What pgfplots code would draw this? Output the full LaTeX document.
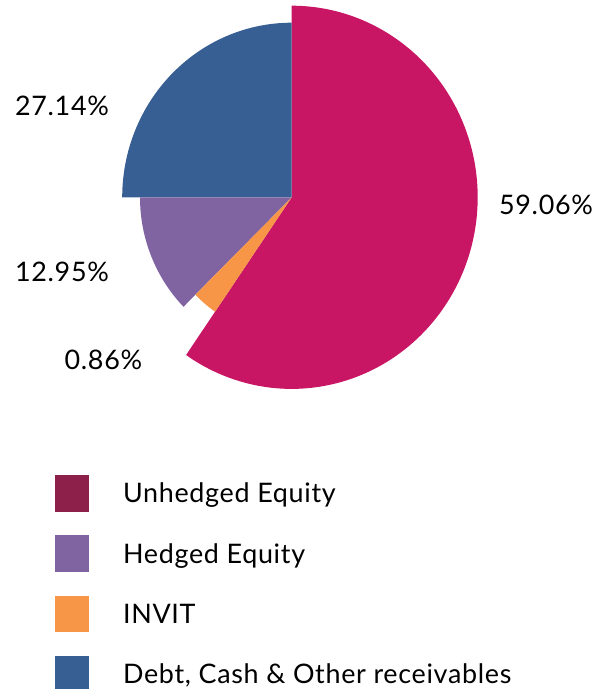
\documentclass[border=0pt]{standalone}
\usepackage{pgfplots}
\pgfplotsset{compat=1.18}
\usepackage{fontspec}
\setmainfont{Lato}[LetterSpace=2.6]
\definecolor{unhedged}{HTML}{C81664}
\definecolor{unhedgedleg}{HTML}{8C204A}
\definecolor{hedged}{HTML}{8064A2}
\definecolor{invit}{HTML}{F79646}
\definecolor{debt}{HTML}{375F93}
\begin{document}
\begin{tikzpicture}
\useasboundingbox (0,0) rectangle (595bp,689bp);
\begin{axis}[
  at={(0,0)}, anchor=south west,
  scale only axis, width=595bp, height=689bp,
  xmin=0, xmax=595, ymin=0, ymax=689,
  hide axis, clip=false,
  legend cell align=left,
  legend style={at={(axis description cs:0.0924,0.3106)}, anchor=north west,
    draw=none, fill=none, inner sep=0pt, outer sep=0pt,
    row sep=24.4bp, column sep=34.7bp,
    font=\fontsize{27}{32}\selectfont,
    nodes={inner sep=0pt, anchor=west, text height=19.3bp, text depth=0pt}},
]
% Unhedged Equity 59.06%
\addplot[fill=unhedged, draw=none, forget plot, domain=235.4:450, samples=160, variable=\t]
  ({291.7+186*cos(\t)}, {491.7+191.6*sin(\t)}) -- (axis cs:291.7,491.7) -- cycle;
% Debt, Cash & Other receivables 27.14%
\addplot[fill=debt, draw=none, forget plot, domain=90:180, samples=80, variable=\t]
  ({291.7+169.5*cos(\t)}, {491.7+174.6*sin(\t)}) -- (axis cs:291.7,491.7) -- cycle;
% Hedged Equity 12.95%
\addplot[fill=hedged, draw=none, forget plot, domain=180:224.5, samples=50, variable=\t]
  ({291.7+151.7*cos(\t)}, {491.7+156.2*sin(\t)}) -- (axis cs:291.7,491.7) -- cycle;
% INVIT 0.86%
\addplot[fill=invit, draw=none, forget plot, domain=224.5:235.4, samples=20, variable=\t]
  ({291.7+135*cos(\t)}, {491.7+139*sin(\t)}) -- (axis cs:291.7,491.7) -- cycle;

\tikzset{pctlabel/.style={font=\fontsize{27}{32}\selectfont, inner sep=0pt, text height=19.3bp, text depth=0pt}}
\node[pctlabel] at (axis cs:62,583) {27.14\%};
\node[pctlabel] at (axis cs:546,484.3) {59.06\%};
\node[pctlabel] at (axis cs:62,417) {12.95\%};
\node[pctlabel] at (axis cs:103.4,329) {0.86\%};

\addlegendimage{legend image code/.code={\fill[unhedgedleg] (0bp,-17.8bp) rectangle (33bp,17.8bp);}}
\addlegendentry{Unhedged Equity}
\addlegendimage{legend image code/.code={\fill[hedged] (0bp,-17.8bp) rectangle (33bp,17.8bp);}}
\addlegendentry{Hedged Equity}
\addlegendimage{legend image code/.code={\fill[invit] (0bp,-17.8bp) rectangle (33bp,17.8bp);}}
\addlegendentry{INVIT}
\addlegendimage{legend image code/.code={\fill[debt] (0bp,-17.8bp) rectangle (33bp,17.8bp);}}
\addlegendentry{Debt, Cash \& Other receivables}
\end{axis}
\end{tikzpicture}
\end{document}
